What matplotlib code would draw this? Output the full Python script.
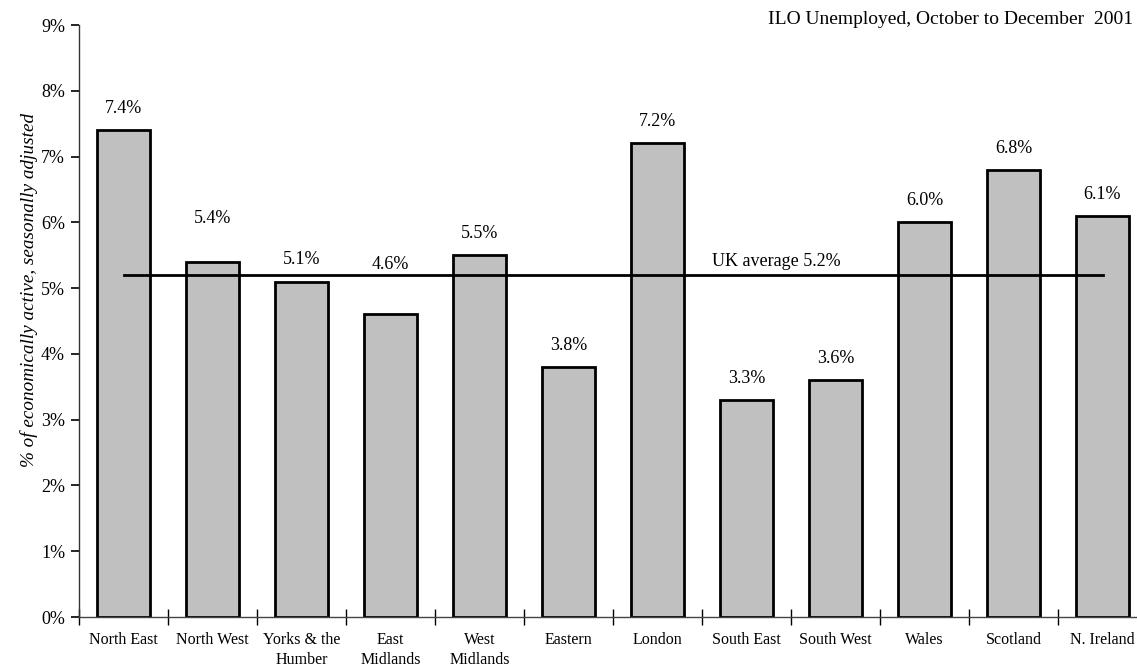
import matplotlib
matplotlib.use("Agg")
import matplotlib.pyplot as plt
from matplotlib.ticker import FixedLocator, PercentFormatter

plt.rcParams["font.family"] = ["Liberation Serif", "DejaVu Serif"]

regions = ["North East", "North West", "Yorks & the\nHumber", "East\nMidlands",
           "West\nMidlands", "Eastern", "London", "South East", "South West",
           "Wales", "Scotland", "N. Ireland"]
unemployment = [7.4, 5.4, 5.1, 4.6, 5.5, 3.8, 7.2, 3.3, 3.6, 6.0, 6.8, 6.1]
uk_average = 5.2
title = "ILO Unemployed, October to December  2001"
y_label = "% of economically active, seasonally adjusted"

# value labels sit a fixed gap above each bar, except where they would
# clash with the average line
label_gap = 0.33
label_override = {1: 6.06, 2: 5.44, 3: 5.36}

W, H = 1137, 668
fig = plt.figure(figsize=(W / 100, H / 100), dpi=100)
ax = fig.add_axes([79 / W, (H - 617) / H, 12 * 89 / W, 592 / H])

x = list(range(len(regions)))
ax.bar(x, unemployment, width=0.6, color="#C0C0C0", edgecolor="black",
       linewidth=2.0, zorder=2)
ax.plot([x[0], x[-1]], [uk_average, uk_average], color="black", lw=2.0, zorder=3)
ax.text(7.33, uk_average + 0.2, f"UK average {uk_average:.1f}%", ha="center",
        va="center", fontsize=13)

for i, v in enumerate(unemployment):
    ly = label_override.get(i, v + label_gap)
    ax.text(i, ly, f"{v:.1f}%", ha="center", va="center", fontsize=13)

ax.set_xlim(-0.5, len(regions) - 0.5)
ax.set_ylim(0, 9)
ax.yaxis.set_major_locator(FixedLocator(range(0, 10)))
ax.yaxis.set_major_formatter(PercentFormatter(decimals=0))

ax.set_xticks(x)
ax.set_xticklabels(regions, fontsize=11.5, linespacing=1.3)
ax.tick_params(axis="x", which="major", length=0, pad=11)
ax.xaxis.set_minor_locator(FixedLocator([i - 0.5 for i in range(len(regions) + 1)]))
ax.tick_params(axis="x", which="minor", length=11, direction="inout", width=1.0)
ax.tick_params(axis="y", length=6, width=1.2, direction="out", labelsize=13, pad=4)

for side in ("top", "right"):
    ax.spines[side].set_visible(False)
ax.spines["left"].set_color("#333333")
ax.spines["bottom"].set_color("#444444")
ax.spines["left"].set_linewidth(1.0)
ax.spines["bottom"].set_linewidth(1.0)

fig.text(29 / W, 1 - 290 / H, y_label, rotation=90, ha="center", va="center",
         fontsize=13.8, style="italic")

fig.text(1133 / W, 1 - 20 / H, title, ha="right", va="center", fontsize=14)

fig.savefig("out.png", dpi=100)
